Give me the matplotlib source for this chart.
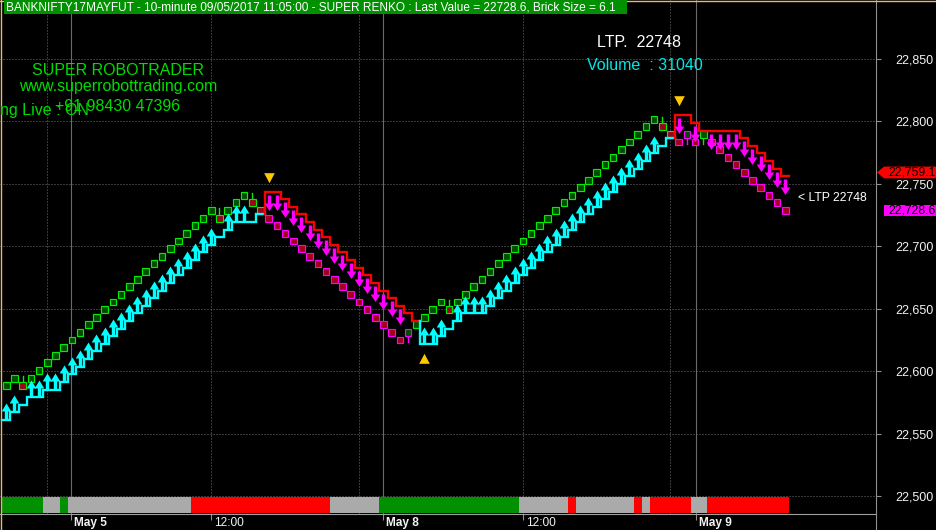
import matplotlib
matplotlib.use("Agg")
import matplotlib.pyplot as plt
import matplotlib.transforms as mtransforms
import numpy as np
from matplotlib.patches import Rectangle, Polygon
from matplotlib.path import Path
from matplotlib.markers import MarkerStyle
from matplotlib.lines import Line2D
from matplotlib.ticker import FuncFormatter

plt.rcParams['font.family'] = ['Liberation Sans', 'DejaVu Sans']

W, H = 937, 530
BRICK = 6.1

# renko brick closes, one per brick
close = [
    22588.3, 22594.4, 22588.3, 22594.4, 22600.5, 22606.6, 22612.7, 22618.8, 22624.9, 22631.0,
    22637.1, 22643.2, 22649.3, 22655.4, 22661.5, 22667.6, 22673.7, 22679.8, 22685.9, 22692.0,
    22698.1, 22704.2, 22710.3, 22716.4, 22722.5, 22728.6, 22722.5, 22728.6, 22734.7, 22740.8,
    22734.7, 22728.6, 22722.5, 22716.4, 22710.3, 22704.2, 22698.1, 22692.0, 22685.9, 22679.8,
    22673.7, 22667.6, 22661.5, 22655.4, 22649.3, 22643.2, 22637.1, 22631.0, 22624.9, 22631.0,
    22637.1, 22643.2, 22649.3, 22655.4, 22649.3, 22655.4, 22661.5, 22667.6, 22673.7, 22679.8,
    22685.9, 22692.0, 22698.1, 22704.2, 22710.3, 22716.4, 22722.5, 22728.6, 22734.7, 22740.8,
    22746.9, 22753.0, 22759.1, 22765.2, 22771.3, 22777.4, 22783.5, 22789.6, 22795.7, 22801.8,
    22795.7, 22789.6, 22783.5, 22789.6, 22783.5, 22789.6, 22783.5, 22777.4, 22771.3, 22765.2,
    22759.1, 22753.0, 22746.9, 22740.8, 22734.7, 22728.6,
]

# trailing stop line (cyan in up trend, red in down trend)
stop = [
    22560.85, 22566.95, 22573.05, 22579.15, 22579.15, 22585.25, 22585.25, 22591.35, 22597.45, 22603.55,
    22609.65, 22615.75, 22621.85, 22627.95, 22634.05, 22640.15, 22646.25, 22652.35, 22658.45, 22664.55,
    22670.65, 22676.75, 22682.85, 22688.95, 22695.05, 22701.15, 22707.25, 22713.35, 22719.45, 22719.45,
    22719.45, 22725.55, 22743.85, 22743.85, 22737.75, 22731.65, 22725.55, 22719.45, 22713.35, 22707.25,
    22701.15, 22695.05, 22688.95, 22682.85, 22676.75, 22670.65, 22664.55, 22658.45, 22652.35, 22646.25,
    22640.15, 22621.85, 22621.85, 22627.95, 22634.05, 22640.15, 22646.25, 22646.25, 22646.25, 22652.35,
    22658.45, 22664.55, 22670.65, 22676.75, 22682.85, 22688.95, 22695.05, 22701.15, 22707.25, 22713.35,
    22719.45, 22725.55, 22731.65, 22737.75, 22743.85, 22749.95, 22756.05, 22762.15, 22768.25, 22774.35,
    22780.45, 22786.55, 22804.85, 22804.85, 22798.75, 22792.65, 22792.65, 22792.65, 22792.65, 22792.65,
    22786.55, 22780.45, 22774.35, 22768.25, 22762.15, 22756.05,
]

# G up brick, R down brick in up trend, M down brick, N up brick in down trend
kind_runs = [("G", 2), ("R", 1), ("G", 23), ("R", 1), ("G", 3), ("R", 2),
             ("M", 17), ("N", 1), ("G", 4), ("R", 1), ("G", 25), ("R", 2),
             ("M", 1), ("N", 1), ("M", 1), ("G", 1), ("M", 10)]
wick_up = [2, 26, 30, 54, 80]
wick_down = [3, 27, 49, 55, 83, 85]
trend_runs = [(1, 32), (-1, 19), (1, 31), (-1, 14)]

# bottom state strip
state_runs = [("g", 5), ("x", 2), ("g", 1), ("x", 15), ("r", 17), ("x", 6), ("g", 17),
              ("x", 6), ("r", 1), ("x", 7), ("r", 1), ("x", 1), ("r", 5), ("x", 2), ("r", 10)]

minor_lines = [5, 25, 43, 63, 81]
day_lines = [7.9, 45.9, 84.1]
time_ticks = [7.9, 25, 45.9, 63, 84.1]
time_labels = ["May 5", "12:00", "May 8", "12:00", "May 9"]
time_bold = [True, False, True, False, True]
price_ticks = [22500, 22550, 22600, 22650, 22700, 22750, 22800, 22850]

last_value = 22728.6
last_stop = 22759.1
ltp = 22748
volume = 31040
title = "BANKNIFTY17MAYFUT - 10-minute 09/05/2017 11:05:00 - SUPER RENKO : Last Value = 22728.6, Brick Size = 6.1"

GREEN_EDGE = "#00ee00"
GREEN_FILL = "#004c00"
RED_FILL = "#a00018"
MAGENTA = "#ff00ff"
CYAN = "#00ffff"
RED = "#ff0000"
GOLD = "#ffc800"
state_colors = {"g": "#009000", "x": "#aaaaaa", "r": "#ff0000"}


def arrow_marker(base, shaft, tip, hw=1.7, hh=4.8):
    verts = [(-hw, base), (hw, base), (hw, shaft), (hh, shaft), (0, tip),
             (-hh, shaft), (-hw, shaft), (-hw, base), (-hw, base)]
    return MarkerStyle(Path(verts, closed=True)), 2 * max(abs(base), abs(tip)) * 0.72


def tri_marker(near, far, hw=5.3):
    verts = [(-hw, far), (hw, far), (0, near), (-hw, far)]
    return MarkerStyle(Path(verts, closed=True)), 2 * max(abs(near), abs(far)) * 0.72


kinds = np.repeat([k for k, n in kind_runs], [n for k, n in kind_runs])
trend = np.repeat([t for t, n in trend_runs], [n for t, n in trend_runs])
n_bars = len(close)
xs = np.arange(n_bars)

fig = plt.figure(figsize=(W / 100, H / 100), dpi=100, facecolor="black")
ax = fig.add_axes([0, 16 / H, 876 / W, 514 / H])
ax.set_facecolor("black")
ax.set_xlim(-6.3 / 8.2, (876 - 6.3) / 8.2)
ax.set_ylim(22485.6, 22897.2)

# grid
for p in price_ticks:
    ax.axhline(p, color="#707070", lw=0.72, ls=(0, (1, 2)), zorder=0.5)
for x in minor_lines:
    ax.axvline(x, color="#707070", lw=0.72, ls=(0, (1, 2)), zorder=0.5)
for x in day_lines:
    ax.axvline(x, color="#6a6a6a", lw=0.8, zorder=0.5)

# bottom state strip
xaxis_tr = ax.get_xaxis_transform()
start = 0
for c, n in state_runs:
    ax.add_patch(Rectangle((start - 0.5, 0.002), n, 0.031, transform=xaxis_tr,
                           facecolor=state_colors[c], edgecolor="none", zorder=1))
    start += n

# wicks
for i in wick_up:
    col = GREEN_EDGE if kinds[i] in "GR" else MAGENTA
    ax.plot([i, i], [close[i], close[i] + 1.3 * BRICK], color=col, lw=1.0, zorder=1.8)
for i in wick_down:
    col = GREEN_EDGE if kinds[i] in "GR" else MAGENTA
    ax.plot([i, i], [close[i], close[i] - 1.3 * BRICK], color=col, lw=1.0, zorder=1.8)

# bricks
for i, c in enumerate(close):
    k = kinds[i]
    edge = GREEN_EDGE if k in "GR" else MAGENTA
    fill = GREEN_FILL if k in "GN" else RED_FILL
    ax.add_patch(Rectangle((i - 0.4, c - 0.45 * BRICK), 0.8, 0.9 * BRICK,
                           facecolor=fill, edgecolor=edge, lw=0.85, zorder=2))

# stop line
start = 0
for t, n in trend_runs:
    lx, ly = [], []
    if start > 0:
        lx.append(start - 0.5)
        ly.append(stop[start - 1])
    for i in range(start, start + n):
        lx += [i - 0.5, i + 0.5]
        ly += [stop[i], stop[i]]
    ax.plot(lx, ly, color=CYAN if t > 0 else RED, lw=1.7, solid_joinstyle="miter", zorder=3)
    start += n

# arrows
stop_arr = np.array(stop)
up_mask = (trend > 0) & (kinds == "G")
dn_mask = (trend < 0) & (kinds == "M")
m_up, ms_up = arrow_marker(1, 9, 17)
m_dn, ms_dn = arrow_marker(-3, -11, -18.5)
ax.plot(xs[up_mask], stop_arr[up_mask], ls="none", marker=m_up, ms=ms_up,
        mfc=CYAN, mec="none", zorder=4)
ax.plot(xs[dn_mask], stop_arr[dn_mask], ls="none", marker=m_dn, ms=ms_dn,
        mfc=MAGENTA, mec="none", zorder=4)

# reversal triangles
flips = [i for i in range(1, n_bars) if trend[i] != trend[i - 1]]
for i in flips:
    if trend[i] < 0:
        m, ms = tri_marker(9.3, 19.3)
    else:
        m, ms = tri_marker(-9.3, -19.3)
    ax.plot([i], [stop[i]], ls="none", marker=m, ms=ms, mfc=GOLD, mec="none", zorder=5)

# axes styling
for s in ["top", "left"]:
    ax.spines[s].set_visible(False)
ax.spines["right"].set_color("#909090")
ax.spines["right"].set_linewidth(0.8)
ax.spines["bottom"].set_color("#a0a0a0")
ax.spines["bottom"].set_linewidth(0.8)
ax.yaxis.tick_right()
ax.set_yticks(price_ticks)
ax.yaxis.set_major_formatter(FuncFormatter(lambda v, p: f"{v:,.0f}"))
ax.tick_params(axis="y", color="#909090", labelcolor="#f2f2f2", length=3.6, width=0.8,
               pad=10, labelsize=9)
ax.set_xticks(time_ticks)
ax.tick_params(axis="x", color="#909090", length=4, width=0.8, labelbottom=False)
fig.add_artist(Line2D([876 / W, 876 / W], [0, 16 / H], color="#909090", lw=0.8))

lab_tr = mtransforms.offset_copy(xaxis_tr, fig=fig, x=3, y=0, units="dots")
for x, lab, b in zip(time_ticks, time_labels, time_bold):
    ax.text(x, -9 / 514, lab, transform=lab_tr, ha="left", va="center", fontsize=8.6,
            color="#f2f2f2", fontweight="bold" if b else "normal")

# price tags on the right
yaxis_tr = ax.get_yaxis_transform()
hh = 4.7
ax.add_patch(Polygon([(877 / 876, last_stop), (884 / 876, last_stop + hh), (940 / 876, last_stop + hh),
                      (940 / 876, last_stop - hh), (884 / 876, last_stop - hh)],
                     closed=True, transform=yaxis_tr, facecolor=RED, edgecolor="none",
                     clip_on=False, zorder=6))
ax.text(888 / 876, last_stop, f"{last_stop:,.1f}", transform=yaxis_tr, ha="left", va="center",
        fontsize=8.8, color="black", clip_on=False, zorder=7)
ax.add_patch(Rectangle((884 / 876, last_value - hh), 60 / 876, 2 * hh, transform=yaxis_tr,
                       facecolor=MAGENTA, edgecolor="none", clip_on=False, zorder=6))
ax.text(888 / 876, last_value, f"{last_value:,.1f}", transform=yaxis_tr, ha="left", va="center",
        fontsize=8.8, color="black", clip_on=False, zorder=7)

ax.text(798 / 876, 1 - 198 / 514, f"< LTP {ltp}", transform=ax.transAxes, ha="left",
        va="center", fontsize=8.8, color="white", zorder=7)


def fx(px):
    return px / W


def fy(py):
    return 1 - py / H


# header and overlay texts
fig.add_artist(Rectangle((fx(4), fy(14)), fx(623), 14 / H, transform=fig.transFigure,
                         facecolor="#009000", edgecolor="none", zorder=10))
fig.text(fx(6), fy(7.5), title, ha="left", va="center", fontsize=8.6, color="white", zorder=11)

TXT_GREEN = "#00dc00"
fig.text(fx(118), fy(75), "SUPER ROBOTRADER", ha="center", va="baseline", fontsize=11.5,
         color=TXT_GREEN)
fig.text(fx(118), fy(91), "www.superrobottrading.com", ha="center", va="baseline", fontsize=11.5,
         color=TXT_GREEN)
fig.text(fx(55), fy(111), "+91 98430 47396", ha="left", va="baseline", fontsize=11.5,
         color=TXT_GREEN)
fig.text(fx(0), fy(115), "ng Live : ON", ha="left", va="baseline", fontsize=11.5,
         color=TXT_GREEN)
fig.text(fx(597), fy(47), f"LTP.  {ltp}", ha="left", va="baseline", fontsize=11.5, color="white")
fig.text(fx(587), fy(70), f"Volume  : {volume}", ha="left", va="baseline", fontsize=11.5,
         color="#00e8e8")

# thin frame on the left and top edges
fig.add_artist(Line2D([0.5 / W, 0.5 / W], [0, 1], color="#e8b870", lw=1.0))
fig.add_artist(Line2D([0, 1], [1 - 0.5 / H, 1 - 0.5 / H], color="#e8b870", lw=1.0))

fig.savefig("out.png", dpi=100, facecolor="black")
